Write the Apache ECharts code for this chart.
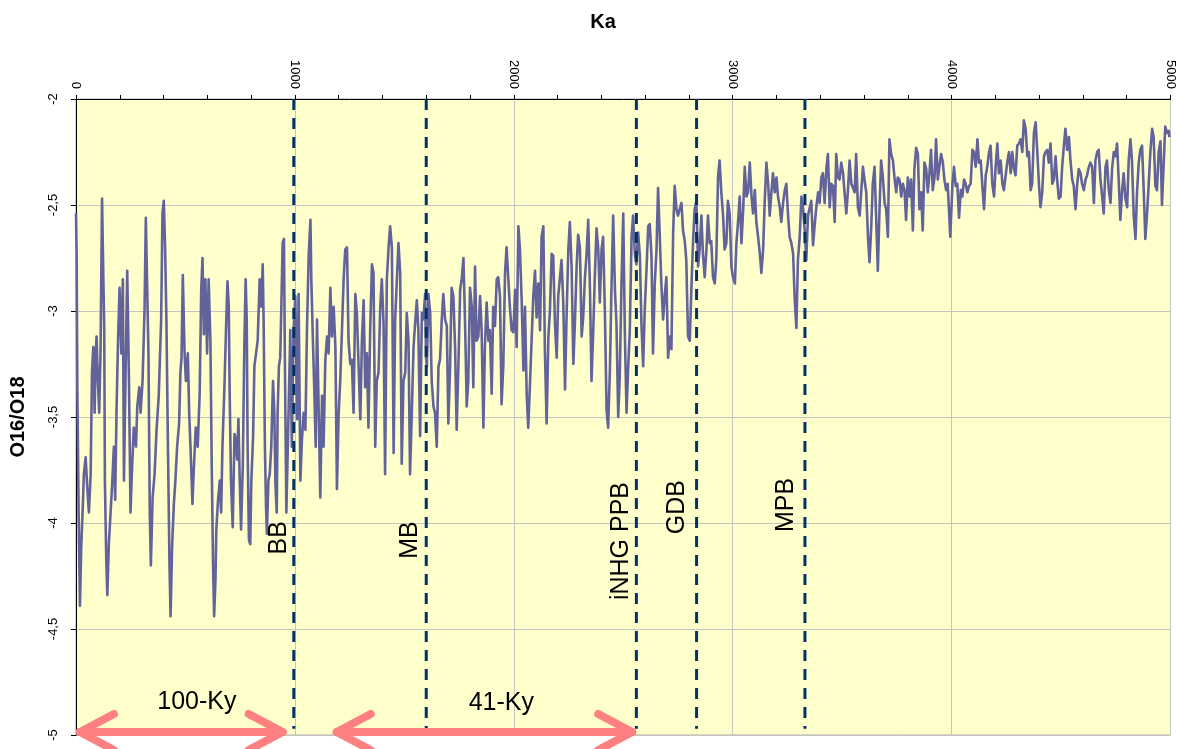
<!DOCTYPE html>
<html>
<head>
<meta charset="utf-8">
<script src="https://cdn.jsdelivr.net/npm/echarts@6/dist/echarts.min.js"></script>
<style>
html,body{margin:0;padding:0;background:#fff;}
#chart{width:1177px;height:749px;}
</style>
</head>
<body>
<div id="chart"></div>
<script>
// Age (Ka) of each turning point
var ageKa = [
0,3,6,12,18,24,30,36,44,52,
59,67,73,79,85,90,94,100,106,112,
119,125,129,132,138,143,150,158,166,173,
179,185,192,199,207,214,219,226,234,242,
249,255,264,274,280,289,295,304,313,319,
327,331,337,342,350,359,368,378,389,395,
401,407,413,420,427,432,439,447,454,462,
471,477,482,488,496,502,511,517,523,532,
538,547,556,565,572,578,584,591,599,606,
614,620,626,631,637,641,649,657,663,669,
678,686,692,698,702,708,716,724,731,736,
742,748,754,762,769,775,780,784,790,796,
801,809,815,822,830,839,847,853,857,863,
868,872,879,885,892,900,906,911,917,921,
927,933,939,944,950,954,961,971,979,986,
994,1002,1010,1017,1025,1032,1040,1048,1055,1063,
1071,1075,1081,1089,1095,1101,1109,1116,1124,1131,
1139,1147,1154,1162,1169,1177,1185,1192,1200,1207,
1215,1223,1230,1238,1245,1253,1260,1268,1276,1283,
1291,1299,1306,1314,1321,1329,1336,1344,1352,1359,
1367,1374,1382,1390,1397,1405,1412,1420,1428,1435,
1443,1451,1458,1466,1473,1481,1488,1496,1504,1511,
1519,1526,1534,1542,1549,1557,1564,1572,1580,1587,
1595,1599,1603,1610,1618,1625,1633,1640,1648,1656,
1663,1671,1678,1686,1694,1701,1709,1716,1724,1732,
1739,1747,1755,1762,1770,1777,1785,1792,1800,1808,
1815,1823,1830,1838,1846,1853,1861,1868,1876,1884,
1891,1899,1906,1914,1922,1929,1937,1944,1952,1960,
1967,1975,1982,1990,1998,2006,2013,2021,2028,2036,
2044,2051,2059,2066,2074,2082,2089,2097,2104,2112,
2120,2127,2135,2142,2150,2158,2165,2173,2180,2188,
2196,2203,2211,2218,2226,2234,2241,2249,2256,2264,
2272,2279,2287,2294,2302,2310,2317,2325,2332,2340,
2348,2355,2363,2370,2378,2386,2393,2401,2408,2416,
2424,2431,2439,2446,2454,2462,2469,2477,2484,2492,
2500,2507,2515,2522,2530,2538,2545,2553,2560,2568,
2576,2583,2591,2598,2606,2614,2621,2629,2636,2644,
2652,2659,2667,2674,2682,2690,2697,2705,2712,2720,
2728,2735,2743,2750,2758,2766,2773,2781,2788,2796,
2804,2811,2819,2826,2834,2842,2849,2857,2864,2872,
2880,2887,2895,2902,2910,2918,2925,2933,2940,2948,
2956,2963,2971,2978,2986,2994,3001,3010,3017,3025,
3032,3040,3048,3055,3063,3070,3078,3086,3093,3101,
3108,3116,3124,3131,3139,3146,3154,3162,3169,3177,
3184,3192,3200,3207,3215,3222,3230,3238,3245,3253,
3260,3268,3276,3283,3291,3298,3306,3314,3321,3329,
3336,3344,3352,3359,3367,3374,3382,3390,3397,3405,
3412,3420,3428,3435,3443,3450,3458,3466,3473,3481,
3488,3496,3504,3511,3519,3526,3534,3542,3549,3557,
3564,3572,3580,3587,3595,3602,3610,3618,3625,3633,
3640,3648,3656,3663,3671,3678,3686,3694,3701,3709,
3716,3724,3732,3739,3747,3754,3762,3770,3777,3785,
3792,3800,3808,3815,3823,3830,3838,3846,3853,3861,
3868,3876,3884,3891,3899,3906,3914,3922,3929,3937,
3944,3952,3960,3967,3975,3982,3994,4004,4011,4019,
4026,4034,4042,4049,4057,4064,4072,4080,4087,4095,
4102,4110,4118,4125,4133,4140,4148,4156,4163,4171,
4178,4186,4194,4201,4209,4216,4224,4232,4239,4247,
4254,4262,4270,4277,4285,4292,4300,4308,4315,4323,
4330,4338,4346,4353,4361,4368,4376,4384,4391,4399,
4406,4414,4422,4429,4437,4444,4452,4460,4467,4475,
4482,4490,4498,4505,4513,4520,4528,4536,4543,4551,
4558,4566,4574,4581,4589,4596,4604,4612,4619,4627,
4634,4642,4650,4657,4665,4672,4680,4688,4695,4703,
4710,4718,4726,4733,4741,4748,4756,4764,4771,4779,
4786,4794,4802,4809,4817,4824,4832,4840,4847,4855,
4862,4870,4878,4885,4893,4900,4908,4916,4923,4931,
4938,4946,4954,4961,4969,4976,4984,4992,4995
];
// O16/O18 value at each of those ages
var isoValue = [
-2.54,-2.74,-3.36,-3.95,-4.39,-4.11,-3.95,-3.77,-3.69,-3.84,
-3.95,-3.77,-3.29,-3.17,-3.48,-3.20,-3.12,-3.33,-3.48,-3.20,
-2.47,-2.85,-3.09,-3.80,-4.16,-4.34,-4.10,-3.95,-3.80,-3.64,
-3.89,-3.48,-3.14,-2.89,-3.20,-2.85,-3.80,-3.33,-2.81,-3.33,
-3.95,-3.77,-3.55,-3.64,-3.45,-3.36,-3.48,-3.33,-3.00,-2.56,
-2.56,-3.20,-3.95,-4.20,-3.88,-3.77,-3.56,-3.40,-3.04,-2.54,
-2.48,-2.70,-3.04,-3.64,-4.19,-4.44,-4.11,-3.91,-3.80,-3.64,
-3.53,-3.29,-3.22,-2.83,-3.20,-3.33,-3.20,-3.48,-3.64,-3.91,
-3.75,-3.55,-3.64,-3.39,-2.90,-2.75,-3.11,-2.85,-3.20,-2.85,
-3.14,-3.72,-4.19,-4.44,-4.27,-4.03,-3.89,-3.80,-3.95,-3.64,
-3.36,-3.06,-2.86,-2.98,-3.39,-3.80,-4.02,-3.58,-3.61,-3.70,
-3.51,-3.80,-4.03,-3.73,-3.17,-2.85,-3.04,-3.64,-4.08,-4.10,
-3.80,-3.59,-3.26,-3.26,-3.14,-2.85,-2.98,-2.78,-3.04,-3.64,
-3.92,-4.05,-3.80,-3.77,-3.64,-3.33,-3.48,-3.81,-3.95,-3.48,
-3.26,-3.22,-2.93,-2.68,-2.66,-3.20,-3.95,-3.48,-3.09,-3.64,
-3.09,-2.93,-3.51,-2.92,-3.80,-3.61,-3.48,-3.56,-3.09,-2.74,
-2.57,-2.85,-3.09,-3.39,-3.64,-3.04,-3.04,-3.88,-3.40,-3.64,
-3.23,-3.12,-3.20,-2.89,-3.12,-2.98,-3.17,-3.84,-3.48,-3.33,
-3.09,-2.84,-2.71,-2.70,-3.14,-3.25,-3.23,-3.48,-2.92,-3.01,
-3.26,-3.51,-3.14,-2.95,-3.36,-3.20,-3.55,-3.09,-2.78,-2.82,
-3.64,-3.33,-3.29,-2.98,-2.85,-3.06,-3.77,-2.85,-2.70,-2.60,
-2.70,-3.67,-3.04,-2.85,-2.68,-2.82,-3.72,-3.33,-3.29,-3.01,
-3.14,-3.77,-3.48,-3.17,-3.06,-2.95,-3.09,-3.59,-3.01,-3.04,
-2.92,-3.22,-3.26,-2.92,-3.01,-3.33,-3.45,-3.48,-3.64,-3.26,
-3.23,-3.04,-2.92,-3.04,-3.07,-3.53,-3.26,-2.89,-2.93,-3.18,
-3.56,-3.25,-2.90,-2.85,-2.75,-3.04,-3.45,-3.33,-2.89,-2.98,
-3.36,-2.79,-3.14,-3.12,-2.93,-3.09,-3.55,-3.17,-2.96,-3.14,
-3.09,-3.39,-2.98,-3.07,-2.85,-2.84,-2.93,-3.44,-3.26,-2.82,
-2.70,-2.70,-2.98,-3.09,-3.10,-2.90,-3.17,-2.60,-2.71,-2.95,
-3.28,-2.98,-3.40,-3.55,-3.34,-3.12,-2.93,-2.81,-3.03,-2.87,
-3.09,-2.65,-2.60,-3.18,-3.53,-3.12,-3.00,-2.73,-2.74,-3.06,
-3.22,-2.93,-2.84,-2.76,-2.96,-3.37,-3.03,-2.71,-2.58,-2.79,
-3.25,-3.06,-2.79,-2.64,-2.70,-3.12,-3.03,-2.84,-2.74,-2.57,
-2.90,-3.33,-3.09,-2.84,-2.61,-2.71,-2.96,-2.71,-2.65,-3.00,
-3.47,-3.55,-3.28,-2.90,-2.55,-2.90,-3.06,-3.50,-3.31,-2.87,
-2.54,-3.09,-3.48,-3.28,-3.09,-2.65,-2.55,-2.73,-2.78,-2.63,
-2.74,-3.06,-3.26,-3.00,-2.81,-2.60,-2.59,-2.74,-3.20,-2.87,
-2.71,-2.42,-2.65,-2.87,-3.04,-2.92,-2.84,-3.22,-3.12,-3.18,
-2.63,-2.41,-2.52,-2.55,-2.55,-2.49,-2.62,-2.67,-2.76,-3.12,
-3.14,-2.90,-2.67,-2.52,-2.48,-2.79,-2.71,-2.55,-2.73,-2.84,
-2.71,-2.55,-2.68,-2.67,-2.84,-2.87,-2.76,-2.37,-2.29,-2.44,
-2.55,-2.71,-2.68,-2.48,-2.54,-2.79,-2.84,-2.87,-2.68,-2.57,
-2.46,-2.68,-2.52,-2.32,-2.46,-2.44,-2.30,-2.46,-2.54,-2.43,
-2.58,-2.65,-2.73,-2.82,-2.71,-2.49,-2.30,-2.40,-2.55,-2.44,
-2.35,-2.44,-2.37,-2.46,-2.51,-2.58,-2.49,-2.43,-2.40,-2.55,
-2.65,-2.68,-2.73,-2.94,-3.08,-2.76,-2.65,-2.46,-2.51,-2.62,
-2.76,-2.55,-2.55,-2.48,-2.69,-2.60,-2.51,-2.44,-2.49,-2.37,
-2.35,-2.49,-2.33,-2.26,-2.51,-2.40,-2.41,-2.58,-2.26,-2.37,
-2.38,-2.30,-2.35,-2.44,-2.54,-2.44,-2.29,-2.40,-2.40,-2.44,
-2.26,-2.51,-2.55,-2.44,-2.32,-2.38,-2.44,-2.65,-2.77,-2.60,
-2.40,-2.32,-2.58,-2.81,-2.51,-2.29,-2.37,-2.49,-2.52,-2.65,
-2.19,-2.26,-2.29,-2.37,-2.44,-2.37,-2.38,-2.46,-2.40,-2.43,
-2.57,-2.37,-2.46,-2.38,-2.62,-2.33,-2.23,-2.26,-2.52,-2.44,
-2.62,-2.30,-2.33,-2.44,-2.35,-2.24,-2.43,-2.37,-2.19,-2.38,
-2.32,-2.26,-2.30,-2.38,-2.43,-2.40,-2.65,-2.40,-2.32,-2.41,
-2.40,-2.56,-2.43,-2.46,-2.38,-2.40,-2.44,-2.41,-2.40,-2.24,
-2.25,-2.32,-2.19,-2.30,-2.29,-2.40,-2.52,-2.36,-2.32,-2.25,
-2.22,-2.40,-2.46,-2.32,-2.21,-2.35,-2.29,-2.40,-2.43,-2.36,
-2.30,-2.25,-2.35,-2.25,-2.33,-2.36,-2.22,-2.21,-2.19,-2.25,
-2.10,-2.14,-2.27,-2.25,-2.43,-2.40,-2.16,-2.11,-2.24,-2.40,
-2.51,-2.44,-2.27,-2.25,-2.24,-2.30,-2.21,-2.40,-2.38,-2.27,
-2.38,-2.47,-2.46,-2.32,-2.22,-2.14,-2.24,-2.18,-2.29,-2.38,
-2.41,-2.52,-2.40,-2.33,-2.35,-2.40,-2.43,-2.38,-2.36,-2.32,
-2.30,-2.32,-2.49,-2.29,-2.25,-2.24,-2.38,-2.46,-2.54,-2.32,
-2.29,-2.43,-2.49,-2.33,-2.25,-2.27,-2.21,-2.40,-2.57,-2.43,
-2.35,-2.47,-2.51,-2.29,-2.19,-2.29,-2.55,-2.66,-2.44,-2.30,
-2.24,-2.22,-2.44,-2.66,-2.54,-2.41,-2.25,-2.14,-2.18,-2.41,
-2.43,-2.25,-2.20,-2.50,-2.30,-2.13,-2.16,-2.15,-2.18
];

// Vertical boundary lines
var boundaryKa = [995, 1600, 2560, 2835, 3330];
var boundaryTop = -2;
var boundaryBottom = -4.97;
var boundaryNames = ['BB', 'MB', 'iNHG PPB', 'GDB', 'MPB'];
var boundaryLabelKa = [926, 1528, 2491, 2746, 3244];
var boundaryLabelVal = [-4.07, -4.08, -4.085, -3.925, -3.915];

// Periodicity ranges (arrows)
var rangeNames = ['100-Ky', '41-Ky'];
var rangeStartKa = [18, 1191];
var rangeEndKa = [944, 2541];
var rangeArrowVal = -4.986;
var rangeLabelKa = [552, 1943];
var rangeLabelVal = [-4.844, -4.849];

var FONT = '"Liberation Sans", Arial, sans-serif';

var curve = ageKa.map(function (a, i) { return [a, isoValue[i]]; });

var series = [{
  type: 'line',
  data: curve,
  showSymbol: false,
  symbol: 'none',
  sampling: null,
  lineStyle: { color: '#63639c', width: 2.6, join: 'round' },
  z: 2
}];

boundaryKa.forEach(function (k) {
  series.push({
    type: 'line',
    data: [[k, boundaryTop], [k, boundaryBottom]],
    showSymbol: false,
    symbol: 'none',
    lineStyle: { color: '#003366', width: 3, type: [11, 8] },
    z: 3
  });
});

// Text annotations drawn as custom text elements placed through the axes
function textSeries(names, kas, vals, rotation) {
  return {
    type: 'custom',
    data: names.map(function (n, i) { return [kas[i], vals[i], i]; }),
    clip: false,
    silent: true,
    z: 6,
    renderItem: function (params, api) {
      var p = api.coord([api.value(0), api.value(1)]);
      return {
        type: 'text',
        x: p[0], y: p[1],
        rotation: rotation,
        style: {
          text: names[api.value(2)],
          font: '25px ' + FONT,
          fill: '#000000',
          align: 'center',
          verticalAlign: 'middle'
        }
      };
    }
  };
}

series.push(textSeries(boundaryNames, boundaryLabelKa, boundaryLabelVal, Math.PI / 2));
series.push(textSeries(rangeNames, rangeLabelKa, rangeLabelVal, 0));

series.push({
  type: 'custom',
  data: rangeNames.map(function (n, i) { return [rangeStartKa[i], rangeEndKa[i], rangeArrowVal]; }),
  clip: false,
  silent: true,
  z: 5,
  renderItem: function (params, api) {
    var p1 = api.coord([api.value(0), api.value(2)]);
    var p2 = api.coord([api.value(1), api.value(2)]);
    var st = { stroke: '#ff8080', lineWidth: 8, lineCap: 'round', lineJoin: 'round', fill: null };
    return {
      type: 'group',
      children: [
        { type: 'line', shape: { x1: p1[0], y1: p1[1], x2: p2[0], y2: p2[1] }, style: st },
        { type: 'polyline', shape: { points: [[p1[0] + 34, p1[1] - 18], [p1[0], p1[1]], [p1[0] + 34, p1[1] + 18]] }, style: st },
        { type: 'polyline', shape: { points: [[p2[0] - 34, p2[1] - 18], [p2[0], p2[1]], [p2[0] - 34, p2[1] + 18]] }, style: st }
      ]
    };
  }
});

var chart = echarts.init(document.getElementById('chart'), null, { renderer: 'canvas' });
chart.setOption({
  animation: false,
  backgroundColor: '#ffffff',
  textStyle: { fontFamily: FONT },
  graphic: [{
    type: 'text', x: 603, y: 22,
    style: { text: 'Ka', font: 'bold 20px ' + FONT, fill: '#000', textAlign: 'center', textVerticalAlign: 'middle' }
  }],
  grid: {
    left: 76, right: 6, top: 99, bottom: 14,
    show: true, backgroundColor: '#ffffcc', borderColor: '#a8a8a8', borderWidth: 1
  },
  xAxis: {
    type: 'value', position: 'top', min: 0, max: 5000, interval: 1000,
    axisLine: { show: true, lineStyle: { color: '#000', width: 1 } },
    axisTick: { show: true, length: 4, lineStyle: { color: '#000' } },
    minorTick: { show: true, splitNumber: 5, length: 4, lineStyle: { color: '#000' } },
    splitLine: { show: true, lineStyle: { color: '#c4c4c4', width: 1 } },
    axisLabel: {
      rotate: 90, margin: 10, fontSize: 13, color: '#000', fontFamily: FONT,
      formatter: function (v) { return String(v); }
    }
  },
  yAxis: {
    type: 'value', min: -5, max: -2, interval: 0.5,
    name: 'O16/O18', nameLocation: 'middle', nameRotate: 90, nameGap: 48,
    nameTextStyle: { fontSize: 20, fontWeight: 'bold', color: '#000', fontFamily: FONT },
    axisLine: { show: true, lineStyle: { color: '#000', width: 1 } },
    axisTick: { show: true, length: 5, lineStyle: { color: '#000' } },
    splitLine: { show: true, lineStyle: { color: '#c4c4c4', width: 1 } },
    axisLabel: {
      rotate: 90, margin: 16, fontSize: 13, color: '#000', fontFamily: FONT,
      formatter: function (v) { return String(v).replace('.', ','); }
    }
  },
  series: series
});
</script>
</body>
</html>
